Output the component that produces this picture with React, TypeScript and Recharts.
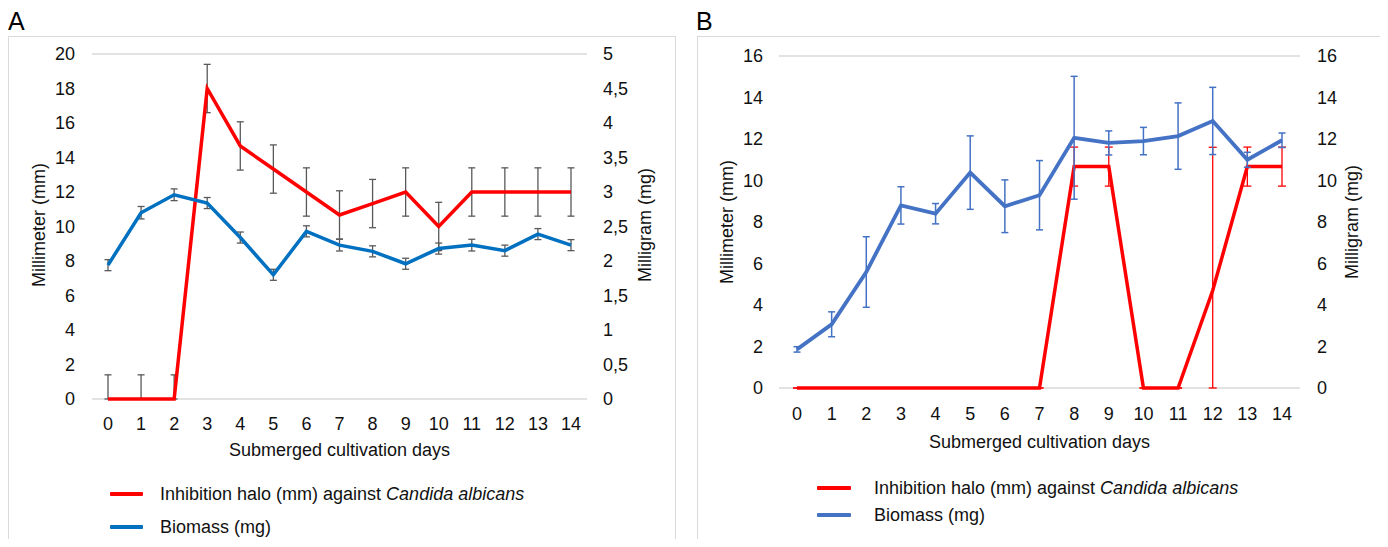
import React from "react";
import { LineChart, Line, XAxis, YAxis, CartesianGrid, ErrorBar } from "recharts";

const days = [0, 1, 2, 3, 4, 5, 6, 7, 8, 9, 10, 11, 12, 13, 14];

// panel A
const haloA = [0, 0, 0, 18, 14.67, 13.33, 12, 10.67, 11.33, 12, 10, 12, 12, 12, 12];
const haloAErr = [
  [0, 1.4], [0, 1.4], [0, 1.4], [1.4, 1.4], [1.4, 1.4], [1.4, 1.4], [1.4, 1.4], [1.4, 1.4],
  [1.4, 1.4], [1.4, 1.4], [1.4, 1.4], [1.4, 1.4], [1.4, 1.4], [1.4, 1.4], [1.4, 1.4],
];
const biomassA = [1.94, 2.7, 2.96, 2.84, 2.34, 1.8, 2.43, 2.23, 2.14, 1.96, 2.18, 2.23, 2.15, 2.39, 2.23];
const biomassAErr = [0.08, 0.09, 0.085, 0.08, 0.08, 0.08, 0.08, 0.085, 0.08, 0.08, 0.08, 0.085, 0.08, 0.08, 0.08];
const leftTicksA = [0, 2, 4, 6, 8, 10, 12, 14, 16, 18, 20];
const rightTicksA = [0, 0.5, 1, 1.5, 2, 2.5, 3, 3.5, 4, 4.5, 5];

// panel B
const haloB = [0, 0, 0, 0, 0, 0, 0, 0, 10.67, 10.67, 0, 0, 4.7, 10.67, 10.67];
const haloBErr = [
  [0, 0], [0, 0], [0, 0], [0, 0], [0, 0], [0, 0], [0, 0], [0, 0],
  [0.94, 0.94], [0.94, 0.94], [0, 0], [0, 0], [4.7, 6.9], [0.94, 0.94], [0.94, 0.94],
];
const biomassB = [1.86, 3.07, 5.59, 8.8, 8.4, 10.38, 8.76, 9.29, 12.06, 11.81, 11.9, 12.14, 12.87, 11.0, 11.94];
const biomassBErr = [0.13, 0.6, 1.7, 0.9, 0.49, 1.77, 1.27, 1.67, 2.96, 0.58, 0.66, 1.6, 1.62, 0.36, 0.35];
const ticksB = [0, 2, 4, 6, 8, 10, 12, 14, 16];

const dataA = days.map((d, i) => ({
  day: d,
  halo: haloA[i],
  haloErr: haloAErr[i],
  biomass: biomassA[i],
  biomassErr: biomassAErr[i],
}));

const dataB = days.map((d, i) => ({
  day: d,
  halo: haloB[i],
  haloErr: haloBErr[i],
  biomass: biomassB[i],
  biomassErr: biomassBErr[i],
}));

const FONT = "'Liberation Sans', Arial, sans-serif";
const TXT = "#111";
const GRID = "#d9d9d9";
const tick = { fill: TXT, fontSize: 18, fontFamily: FONT };
const comma = (v: number) => String(v).replace(".", ",");

function AxisTitle({ px, py, text }: any) {
  return (
    <text
      x={px}
      y={py}
      transform={`rotate(-90 ${px} ${py})`}
      textAnchor="middle"
      dominantBaseline="central"
      fontSize={18}
      fontFamily={FONT}
      fill={TXT}
    >
      {text}
    </text>
  );
}

function LegendBox({ left, top, gap, swatchW, textLeft, blue }: any) {
  const row = (color: string, y: number, content: React.ReactNode) => (
    <div style={{ position: "absolute", left: 0, top: y, height: 0 }}>
      <div
        style={{
          position: "absolute",
          left: 0,
          top: -2,
          width: swatchW,
          height: 4,
          background: color,
          borderRadius: 1,
        }}
      />
      <div
        style={{
          position: "absolute",
          left: textLeft,
          top: -11,
          whiteSpace: "nowrap",
          fontSize: 18,
          lineHeight: "22px",
          color: TXT,
        }}
      >
        {content}
      </div>
    </div>
  );
  return (
    <div style={{ position: "absolute", left, top }}>
      {row("#ff0000", 0, <>Inhibition halo (mm) against <i>Candida albicans</i></>)}
      {row(blue, gap, <>Biomass (mg)</>)}
    </div>
  );
}

const panelStyle = (left: number, width: number): React.CSSProperties => ({
  position: "absolute",
  left,
  top: 36,
  width,
  height: 511,
  border: `1px solid ${GRID}`,
  borderBottom: "none",
  boxSizing: "border-box",
});

export default function App() {
  return (
    <div
      style={{
        position: "relative",
        width: 1388,
        height: 547,
        margin: -8,
        overflow: "hidden",
        background: "#fff",
        fontFamily: FONT,
      }}
    >
      <div style={{ position: "absolute", left: 8, top: 6, fontSize: 25, lineHeight: "30px", color: "#000" }}>A</div>
      <div style={{ position: "absolute", left: 696, top: 6, fontSize: 25, lineHeight: "30px", color: "#000" }}>B</div>

      {/* Panel A */}
      <div style={panelStyle(8, 668)}>
        <LineChart width={666} height={509} data={dataA} margin={{ top: 17, right: 0, left: 0, bottom: 85 }}>
          <CartesianGrid horizontal vertical={false} stroke={GRID} strokeWidth={1.3} />
          <XAxis
            dataKey="day"
            interval={0}
            padding={{ left: 16, right: 16 }}
            axisLine={false}
            tickLine={false}
            tickMargin={12}
            tick={tick}
            height={62}
            label={{ value: "Submerged cultivation days", position: "insideBottom", offset: 5.5, fill: TXT, fontSize: 18, fontFamily: FONT }}
          />
          <YAxis
            yAxisId="mm"
            domain={[0, 20]}
            ticks={leftTicksA}
            width={83}
            axisLine={false}
            tickLine={false}
            tickMargin={11}
            tick={tick}
            label={<AxisTitle px={30} py={188} text="Millimeter (mm)" />}
          />
          <YAxis
            yAxisId="mg"
            orientation="right"
            domain={[0, 5]}
            ticks={rightTicksA}
            tickFormatter={comma}
            width={88}
            axisLine={false}
            tickLine={false}
            tickMargin={10}
            tick={{ ...tick, textAnchor: "start" }}
            label={<AxisTitle px={636} py={188} text="Milligram (mg)" />}
          />
          {/* error bars sit under the red line */}
          <Line yAxisId="mm" dataKey="halo" stroke="none" dot={false} activeDot={false} isAnimationActive={false}>
            <ErrorBar dataKey="haloErr" direction="y" width={3.5} stroke="#595959" strokeWidth={1.3} />
          </Line>
          <Line
            yAxisId="mm"
            dataKey="halo"
            stroke="#ff0000"
            strokeWidth={3.5}
            dot={false}
            activeDot={false}
            isAnimationActive={false}
          />
          <Line
            yAxisId="mg"
            dataKey="biomass"
            stroke="#0070c0"
            strokeWidth={3.5}
            dot={false}
            activeDot={false}
            isAnimationActive={false}
          >
            <ErrorBar dataKey="biomassErr" direction="y" width={3.5} stroke="#595959" strokeWidth={1.3} />
          </Line>
        </LineChart>
        <LegendBox left={101} top={457} gap={33} swatchW={33} textLeft={50} blue="#0070c0" />
      </div>

      {/* Panel B */}
      <div style={panelStyle(697, 685)}>
        <LineChart width={683} height={509} data={dataB} margin={{ top: 19, right: 0, left: 0, bottom: 92 }}>
          <CartesianGrid horizontal vertical={false} stroke={GRID} strokeWidth={1.3} />
          <XAxis
            dataKey="day"
            interval={0}
            padding={{ left: 18, right: 18 }}
            axisLine={false}
            tickLine={false}
            tickMargin={13}
            tick={tick}
            height={66}
            label={{ value: "Submerged cultivation days", position: "insideBottom", offset: 5.8, fill: TXT, fontSize: 18, fontFamily: FONT }}
          />
          <YAxis
            yAxisId="mm"
            domain={[0, 16]}
            ticks={ticksB}
            width={81}
            axisLine={false}
            tickLine={false}
            tickMargin={10}
            tick={tick}
            label={<AxisTitle px={29} py={185} text="Millimeter (mm)" />}
          />
          <YAxis
            yAxisId="mg"
            orientation="right"
            domain={[0, 16]}
            ticks={ticksB}
            width={81}
            axisLine={false}
            tickLine={false}
            tickMargin={11}
            tick={{ ...tick, textAnchor: "start" }}
            label={<AxisTitle px={654} py={185} text="Milligram (mg)" />}
          />
          <Line
            yAxisId="mm"
            dataKey="halo"
            stroke="#ff0000"
            strokeWidth={3.5}
            dot={false}
            activeDot={false}
            isAnimationActive={false}
          >
            <ErrorBar dataKey="haloErr" direction="y" width={4} stroke="#ff0000" strokeWidth={1.3} />
          </Line>
          <Line
            yAxisId="mg"
            dataKey="biomass"
            stroke="#4472c4"
            strokeWidth={3.8}
            dot={false}
            activeDot={false}
            isAnimationActive={false}
          >
            <ErrorBar dataKey="biomassErr" direction="y" width={3.5} stroke="#4472c4" strokeWidth={1.5} />
          </Line>
        </LineChart>
        <LegendBox left={119} top={451} gap={27} swatchW={34} textLeft={57} blue="#4472c4" />
      </div>
    </div>
  );
}
